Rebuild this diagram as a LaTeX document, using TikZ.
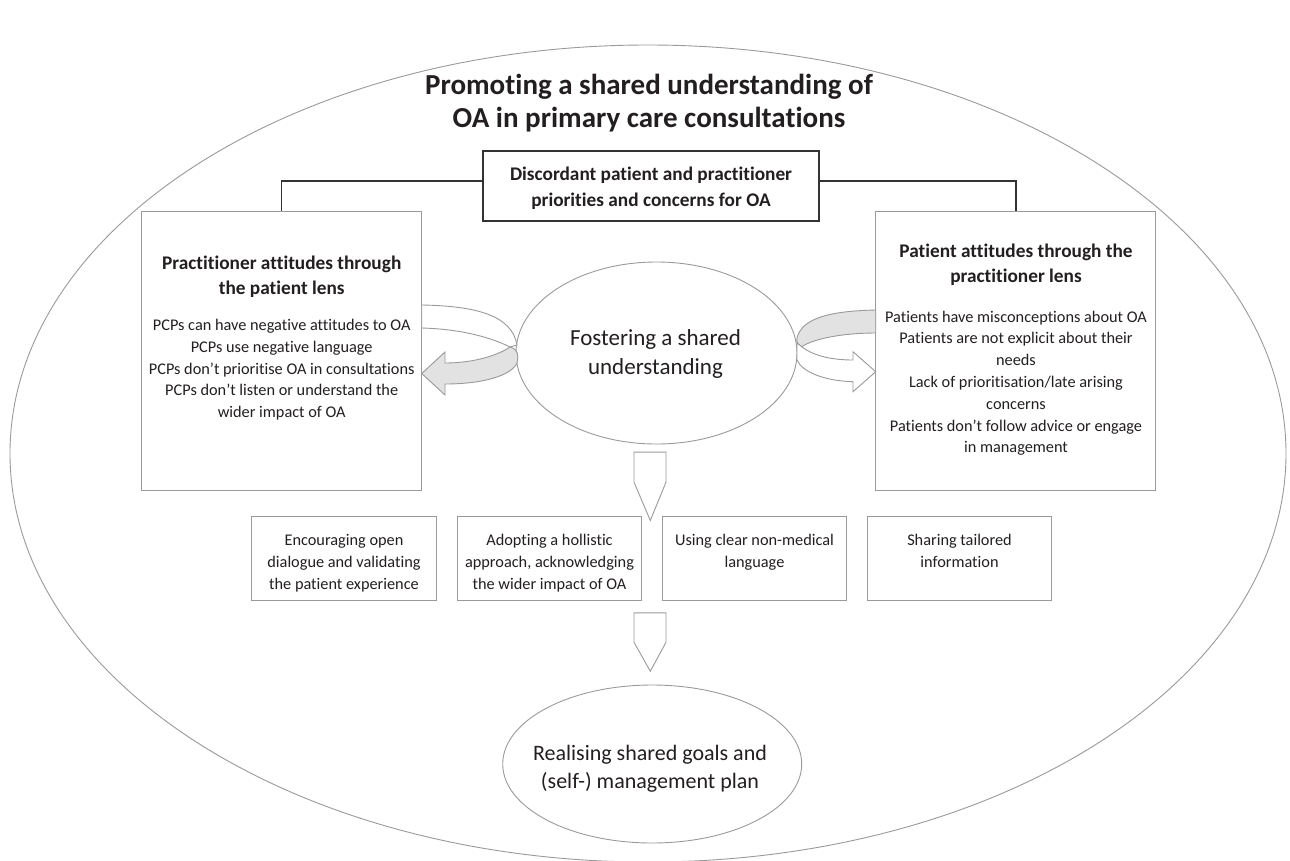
\documentclass[tikz,border=0pt]{standalone}
\usepackage{fontspec}
\setmainfont{Carlito}[Ligatures={NoCommon}]
\usetikzlibrary{shapes.geometric,calc}
\definecolor{linegray}{HTML}{9A9A9A}
\definecolor{darkline}{HTML}{333333}
\definecolor{txt}{HTML}{231F20}
\definecolor{ribbon}{HTML}{E2E2E2}
\begin{document}
\begin{tikzpicture}[x=1pt,y=-1pt,
  box/.style={draw=linegray, line width=0.9pt, fill=white, inner sep=0pt},
  darkbox/.style={draw=darkline, line width=1.3pt, fill=white, inner sep=0pt},
  conn/.style={draw=darkline, line width=1.3pt},
  oval/.style={shape=ellipse, draw=linegray, line width=0.9pt, fill=white, inner sep=0pt},
  shape line/.style={draw=linegray, line width=0.9pt, line join=miter},
  bodytxt/.style={text=txt, align=center, inner sep=0pt, font=\fontsize{16.3}{21.8}\selectfont},
  headtxt/.style={text=txt, align=center, inner sep=0pt, font=\bfseries\fontsize{19.3}{25}\selectfont},
  bigtxt/.style={text=txt, align=center, inner sep=0pt, font=\fontsize{23}{28.5}\selectfont},
  titletxt/.style={text=txt, align=center, inner sep=0pt, font=\bfseries\fontsize{29}{33}\selectfont}
]
\useasboundingbox (0,0) rectangle (1290,860);
\fill[white] (0,0) rectangle (1290,860);

% outer ellipse
\node[oval, minimum width=1276, minimum height=817] (outer) at (648,453.5) {};

% title
\node[titletxt, anchor=north] (title) at (649,74) {Promoting a shared understanding of\\OA in primary care consultations};

% top box and connectors
\node[darkbox, minimum width=336, minimum height=70] (disc) at (651,186) {};
\node[headtxt, font=\bfseries\fontsize{19.3}{26.5}\selectfont] (disct) at ($(disc.center)+(0,2)$) {Discordant patient and practitioner\\priorities and concerns for OA};

\node[box, minimum width=280, minimum height=279] (lbox) at (281.7,350.5) {};
\node[box, minimum width=280, minimum height=279] (rbox) at (1015.9,350.5) {};

\coordinate (dl) at ($(disc.west)+(0,-5)$);
\coordinate (dr) at ($(disc.east)+(0,-5)$);
\draw[conn] (dl) -| (lbox.north);
\draw[conn] (dr) -| (rbox.north);

% side box texts
\node[headtxt, anchor=north] (lhead) at (281.7,255.5) {Practitioner attitudes through\\the patient lens};
\node[bodytxt, anchor=north] (lbody) at (281.7,319) {PCPs can have negative attitudes to OA\\PCPs use negative language\\PCPs don’t prioritise OA in consultations\\PCPs don’t listen or understand the\\wider impact of OA};
\node[headtxt, anchor=north] (rhead) at (1016,244) {Patient attitudes through the\\practitioner lens};
\node[bodytxt, anchor=north] (rbody) at (1016,310.6) {Patients have misconceptions about OA\\Patients are not explicit about their\\needs\\Lack of prioritisation/late arising\\concerns\\Patients don’t follow advice or engage\\in management};

% central ellipse
\node[oval, minimum width=281, minimum height=182] (fost) at (656.5,353) {};
\node[bigtxt] (fostt) at ($(fost.center)+(-1,1)$) {Fostering a shared\\understanding};

% left curved arrow
\draw[shape line, fill=white] (421.7,305) .. controls (478,306) and (512,316) .. (517,345)
  -- (510,347) .. controls (490,337) and (460,329) .. (421.7,328) -- cycle;
\draw[shape line, fill=ribbon] (510,347) .. controls (495,357) and (470,363) .. (445,363)
  -- (445,352) -- (421.7,373.5) -- (445,395) -- (445,384)
  .. controls (482,384) and (511,376) .. (517,363)
  .. controls (519,356) and (518,349) .. (510,347) -- cycle;

% right curved arrow
\draw[shape line, fill=ribbon] (875.7,310) .. controls (830,311) and (802,318) .. (797,338)
  .. controls (796,342) and (798,345) .. (801.7,346.7)
  .. controls (815,338) and (845,333) .. (875.7,333) -- cycle;
\draw[shape line, fill=white] (801.7,346.7) .. controls (812,355) and (830,360) .. (853,360)
  -- (853,351.7) -- (875.7,371.7) -- (853,391.7) -- (853,381.7)
  .. controls (825,381) and (802,372) .. (797,360) -- (797,343) -- cycle;

% bottom boxes
\node[box, minimum width=184.5, minimum height=83.3] (b1) at (344,558.3) {};
\node[box, minimum width=184.5, minimum height=83.3] (b2) at (549.5,558.3) {};
\node[box, minimum width=184.5, minimum height=83.3] (b3) at (754.5,558.3) {};
\node[box, minimum width=184.5, minimum height=83.3] (b4) at (959.5,558.3) {};
\node[bodytxt, anchor=north] (t1) at ($(b1.north)+(0,18)$) {Encouraging open\\dialogue and validating\\the patient experience};
\node[bodytxt, anchor=north] (t2) at ($(b2.north)+(0,18)$) {Adopting a hollistic\\approach, acknowledging\\the wider impact of OA};
\node[bodytxt, anchor=north] (t3) at ($(b3.north)+(0,18)$) {Using clear non-medical\\language};
\node[bodytxt, anchor=north] (t4) at ($(b4.north)+(0,18)$) {Sharing tailored\\information};

% down arrow 1
\coordinate (da1) at ($(fost.south)+(-22.5,7.7)$);
\draw[shape line, fill=white] (da1) -- ++(32,0) -- ++(0,30) -- ++(-15.7,38.3) -- ++(-16.3,-38.3) -- cycle;

% bottom ellipse
\node[oval, minimum width=299, minimum height=158] (goal) at (652.2,764) {};
\node[bigtxt, font=\fontsize{22}{28}\selectfont] (goalt) at (650,769) {Realising shared goals and\\(self-) management plan};

% down arrow 2
\coordinate (da2) at ($(goal.north)+(-18.2,-71.7)$);
\draw[shape line, fill=white] (da2) -- ++(32,0) -- ++(0,29.4) -- ++(-15.7,29) -- ++(-16.3,-29) -- cycle;
\end{tikzpicture}
\end{document}
